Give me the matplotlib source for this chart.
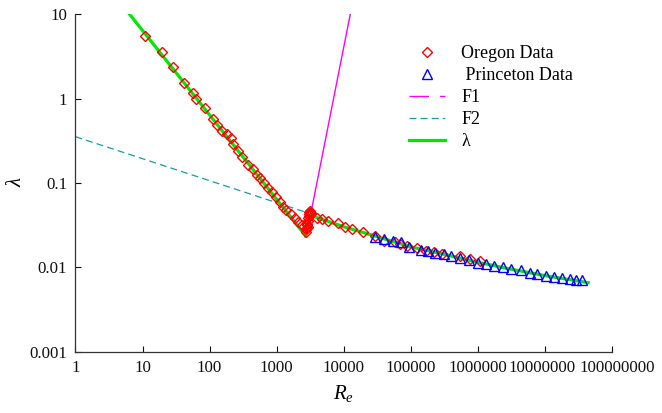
#!/usr/bin/env python3
"""Friction factor against Reynolds number: Oregon and Princeton pipe-flow data."""

import matplotlib

matplotlib.use("Agg")
import matplotlib.pyplot as plt
import matplotlib.transforms as mtransforms
from matplotlib.lines import Line2D

plt.rcParams["font.family"] = ["Liberation Serif", "DejaVu Serif"]
plt.rcParams["mathtext.fontset"] = "custom"
plt.rcParams["mathtext.rm"] = "Liberation Serif"
plt.rcParams["mathtext.it"] = "Liberation Serif:italic"
plt.rcParams["lines.scale_dashes"] = False

# Oregon measurements: laminar branch, transition cluster, turbulent branch
OREGON_RE = [
    10.9, 19.3, 28.7, 41.8, 55.8, 61.8, 84.2, 112, 130, 154, 181, 208, 225, 264,
    306, 376, 437, 502, 562, 652, 747, 839, 963, 1117, 1251, 1372, 1628, 1868,
    2091, 2350, 2723,
    2750, 2800, 2850, 2900, 2950, 3000, 3050, 3100, 3000, 2900, 2850, 3150, 3200,
    3930, 4770, 5850, 8090, 10400, 13300, 19100, 29000, 39600,
    57800, 68600, 86300, 122000, 171000, 222000, 287000, 537000, 757000, 1070000,
]
OREGON_LAMBDA = [
    5.49, 3.52, 2.34, 1.53, 1.15, 0.99, 0.778, 0.572, 0.482, 0.416, 0.380, 0.341,
    0.290, 0.239, 0.205, 0.163, 0.145, 0.124, 0.114, 0.0991, 0.0865, 0.0776,
    0.0689, 0.0601, 0.0525, 0.0479, 0.0426, 0.0382, 0.0348, 0.0318, 0.0283,
    0.026, 0.029, 0.032, 0.035, 0.038, 0.041, 0.043, 0.044, 0.045, 0.030, 0.033,
    0.046, 0.044,
    0.0388, 0.0375, 0.0355, 0.0333, 0.0299, 0.0286, 0.0265, 0.0236, 0.0206,
    0.0202, 0.0190, 0.0180, 0.0169, 0.0158, 0.0151, 0.0144, 0.0137, 0.0127, 0.0118,
]

# Princeton superpipe measurements
PRINCETON_RE = [
    29000, 40000, 54500, 72600, 93300, 144000, 181000, 233000, 313000, 404000,
    537000, 731000, 1010000, 1300000, 1730000, 2380000, 3090000, 4360000,
    5930000, 7620000, 10300000, 13700000, 18000000, 23400000, 29500000, 35400000,
]
PRINCETON_LAMBDA = [
    0.0231, 0.0217, 0.0206, 0.0199, 0.0176, 0.0161, 0.0157, 0.0150, 0.0143,
    0.0137, 0.0131, 0.0123, 0.0114, 0.0109, 0.0104, 0.0102, 0.0096, 0.0092,
    0.0087, 0.0083, 0.0080, 0.0077, 0.0075, 0.0072, 0.0071, 0.0071,
]

# Model branches
F1_RE = [2660, 3310, 12800]
F1_LAMBDA = [0.0228, 0.048, 10.9]

F2_RE = [1, 2915]
F2_LAMBDA = [0.353, 0.0442]

LAMBDA_RE = [5.5, 2723, 3126, 3930, 10400, 29000, 100000, 300000, 1000000,
             3000000, 10000000, 44000000]
LAMBDA_VALUES = [11.6, 0.0235, 0.0418, 0.0390, 0.0300, 0.0236, 0.0175, 0.0144,
                 0.0115, 0.0096, 0.0080, 0.0066]

X_TICKS = [1, 10, 100, 1e3, 1e4, 1e5, 1e6, 1e7, 1e8]
X_TICK_LABELS = ["1", "10", "100", "1000", "10000", "100000", "1000000",
                 "10000000", "100000000"]
Y_TICKS = [0.001, 0.01, 0.1, 1, 10]
Y_TICK_LABELS = ["0.001", "0.01", "0.1", "1", "10"]

RED = "#ff0000"
BLUE = "#0000ff"
MAGENTA = "#ff00ff"
TEAL = "#1a9c9c"
GREEN = "#00e600"

fig = plt.figure(figsize=(6.62, 4.13), dpi=100)
ax = fig.add_axes([0.114, 0.148, 0.8105, 0.818])

ax.plot(F2_RE, F2_LAMBDA, color=TEAL, linewidth=0.9, dashes=(5, 3), zorder=2)
ax.plot(F1_RE, F1_LAMBDA, color=MAGENTA, linewidth=1.0, zorder=2)
ax.plot(LAMBDA_RE, LAMBDA_VALUES, color=GREEN, linewidth=2.3, zorder=3)
ax.plot(OREGON_RE, OREGON_LAMBDA, linestyle="none", marker="D", markersize=5.3,
        markerfacecolor="none", markeredgecolor=RED, markeredgewidth=1.0, zorder=4)
ax.plot(PRINCETON_RE, PRINCETON_LAMBDA, linestyle="none", marker="^", markersize=6.8,
        markerfacecolor="none", markeredgecolor=BLUE, markeredgewidth=1.0, zorder=5)

ax.set_xscale("log")
ax.set_yscale("log")
ax.set_xlim(1, 1e8)
ax.set_ylim(0.001, 10)
ax.set_xticks(X_TICKS, X_TICK_LABELS)
ax.set_yticks(Y_TICKS, Y_TICK_LABELS)
ax.minorticks_off()
ax.tick_params(direction="in", length=4, width=0.8, labelsize=12.2, colors="#111111",
               pad=6)

# nudge the widest tick labels apart so they don't run together
for label, dx in zip(ax.get_xticklabels()[-2:], (-3, 5)):
    offset = mtransforms.ScaledTranslation(dx / 100, 0, fig.dpi_scale_trans)
    label.set_transform(label.get_transform() + offset)

for side in ("top", "right"):
    ax.spines[side].set_visible(False)
for side in ("left", "bottom"):
    ax.spines[side].set_color("#333333")
    ax.spines[side].set_linewidth(0.9)

ax.set_xlabel("$R_e$", fontsize=15, labelpad=5)
ax.set_ylabel("λ", fontsize=15, fontstyle="italic")
ax.yaxis.set_label_coords(-0.092, 0.5)

handles = [
    Line2D([], [], linestyle="none", marker="D", markersize=5.3, markerfacecolor="none",
           markeredgecolor=RED, markeredgewidth=1.0),
    Line2D([], [], linestyle="none", marker="^", markersize=6.8, markerfacecolor="none",
           markeredgecolor=BLUE, markeredgewidth=1.0),
    Line2D([], [], color=MAGENTA, linewidth=1.0, dashes=(14, 8)),
    Line2D([], [], color=TEAL, linewidth=0.9, dashes=(5, 3)),
    Line2D([], [], color=GREEN, linewidth=2.3),
]
labels = ["Oregon Data", " Princeton Data", "F1", "F2", "λ"]
ax.legend(handles, labels, loc="upper left", bbox_to_anchor=(409 / 662, 1 - 45 / 413),
          bbox_transform=fig.transFigure, frameon=False, fontsize=13, handlelength=2.0,
          handletextpad=0.9, labelspacing=0.28, borderpad=0, borderaxespad=0)

fig.savefig("out.png", dpi=100)
plt.close(fig)
